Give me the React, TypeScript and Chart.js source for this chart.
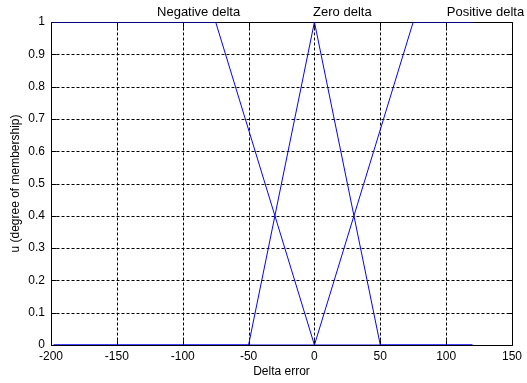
import React, { useEffect, useRef } from "react";
import { Chart, registerables } from "chart.js";

Chart.register(...registerables);

// ---- data ----
const xTicks = [-200, -150, -100, -50, 0, 50, 100, 150];
const yTicks = [0, 0.1, 0.2, 0.3, 0.4, 0.5, 0.6, 0.7, 0.8, 0.9, 1];

const negX = [-198, -75, 0, 120];
const negY = [1, 1, 0, 0];
const zeroX = [-198, -50, 0, 50, 120];
const zeroY = [0, 0, 1, 0, 0];
const posX = [-198, 0, 75, 120];
const posY = [0, 0, 1, 1];

const mfNames = ["Negative delta", "Zero delta", "Positive delta"];
const mfLabelX = [-119.5, -1, 100.5];

const xTitle = "Delta error";
const yTitle = "u (degree of membership)";

const FONT = "'Liberation Sans', Arial, sans-serif";

const toPts = (xs: number[], ys: number[]) => xs.map((x, i) => ({ x, y: ys[i] }));

const framePlugin = {
  id: "matlabFrame",
  beforeDatasetsDraw(chart: any) {
    const { ctx, chartArea, scales } = chart;
    const { left, right, top, bottom } = chartArea;
    const xs = scales.x;
    const ys = scales.y;
    const L = Math.floor(left) + 0.5;
    const R = Math.floor(right) + 0.5;
    const T = Math.floor(top) + 0.5;
    const B = Math.floor(bottom) + 0.5;
    ctx.save();
    ctx.strokeStyle = "#000";
    ctx.lineWidth = 1;
    ctx.setLineDash([3, 2]);
    ctx.beginPath();
    xTicks.slice(1, -1).forEach((v) => {
      const px = Math.round(xs.getPixelForValue(v)) + 0.5;
      ctx.moveTo(px, T);
      ctx.lineTo(px, B);
    });
    yTicks.slice(1, -1).forEach((v) => {
      const py = Math.round(ys.getPixelForValue(v)) + 0.5;
      ctx.moveTo(L, py);
      ctx.lineTo(R, py);
    });
    ctx.stroke();
    ctx.setLineDash([]);
    ctx.beginPath();
    const tl = 5;
    xTicks.forEach((v) => {
      const px = Math.round(xs.getPixelForValue(v)) + 0.5;
      ctx.moveTo(px, B);
      ctx.lineTo(px, B - tl);
      ctx.moveTo(px, T);
      ctx.lineTo(px, T + tl);
    });
    yTicks.forEach((v) => {
      const py = Math.round(ys.getPixelForValue(v)) + 0.5;
      ctx.moveTo(L, py);
      ctx.lineTo(L + tl, py);
      ctx.moveTo(R, py);
      ctx.lineTo(R - tl, py);
    });
    ctx.rect(L, T, R - L, B - T);
    ctx.stroke();
    ctx.restore();
  },
  afterDraw(chart: any) {
    const { ctx, scales } = chart;
    ctx.save();
    ctx.fillStyle = "#000";
    ctx.font = `13px ${FONT}`;
    ctx.textAlign = "left";
    ctx.textBaseline = "alphabetic";
    mfNames.forEach((name, i) => {
      ctx.fillText(name, scales.x.getPixelForValue(mfLabelX[i]), 16);
    });
    ctx.restore();
  },
};

export default function App() {
  const ref = useRef<HTMLCanvasElement | null>(null);

  useEffect(() => {
    document.body.style.margin = "0";
    const canvas = ref.current;
    if (!canvas) return;
    const lineStyle = {
      borderColor: "#0000ff",
      borderWidth: 1,
      pointRadius: 0,
      tension: 0,
      fill: false,
    };
    const chart = new Chart(canvas, {
      type: "line",
      data: {
        datasets: [
          { label: mfNames[0], data: toPts(negX, negY), ...lineStyle },
          { label: mfNames[1], data: toPts(zeroX, zeroY), ...lineStyle },
          { label: mfNames[2], data: toPts(posX, posY), ...lineStyle },
        ],
      },
      options: {
        animation: false,
        responsive: false,
        devicePixelRatio: 1,
        layout: { padding: { left: 0, top: 22, right: 15, bottom: 0 } },
        plugins: {
          legend: { display: false },
          tooltip: { enabled: false },
        },
        scales: {
          x: {
            type: "linear",
            min: -200,
            max: 150,
            afterBuildTicks: (s: any) => {
              s.ticks = xTicks.map((value) => ({ value }));
            },
            afterFit: (s: any) => {
              s.height = 38;
            },
            grid: { display: false, drawTicks: false },
            border: { display: false },
            ticks: {
              color: "#000",
              padding: 4,
              maxRotation: 0,
              autoSkip: false,
              font: { family: FONT, size: 12 },
              callback: (v: any) => String(v),
            },
            title: {
              display: true,
              text: xTitle,
              color: "#000",
              font: { family: FONT, size: 12 },
              padding: { top: 0, bottom: 4 },
            },
          },
          y: {
            type: "linear",
            min: 0,
            max: 1,
            afterBuildTicks: (s: any) => {
              s.ticks = yTicks.map((value) => ({ value }));
            },
            afterFit: (s: any) => {
              s.width = 51;
            },
            grid: { display: false, drawTicks: false },
            border: { display: false },
            ticks: {
              color: "#000",
              padding: 6,
              autoSkip: false,
              font: { family: FONT, size: 12 },
              callback: (v: any) => String(Number(Number(v).toFixed(1))),
            },
            title: {
              display: true,
              text: yTitle,
              color: "#000",
              font: { family: FONT, size: 12 },
              padding: { top: 8, bottom: 0 },
            },
          },
        },
      },
      plugins: [framePlugin],
    } as any);
    return () => chart.destroy();
  }, []);

  return (
    <div style={{ width: 527, height: 383, background: "#fff" }}>
      <canvas ref={ref} width={527} height={383} style={{ display: "block" }} />
    </div>
  );
}
